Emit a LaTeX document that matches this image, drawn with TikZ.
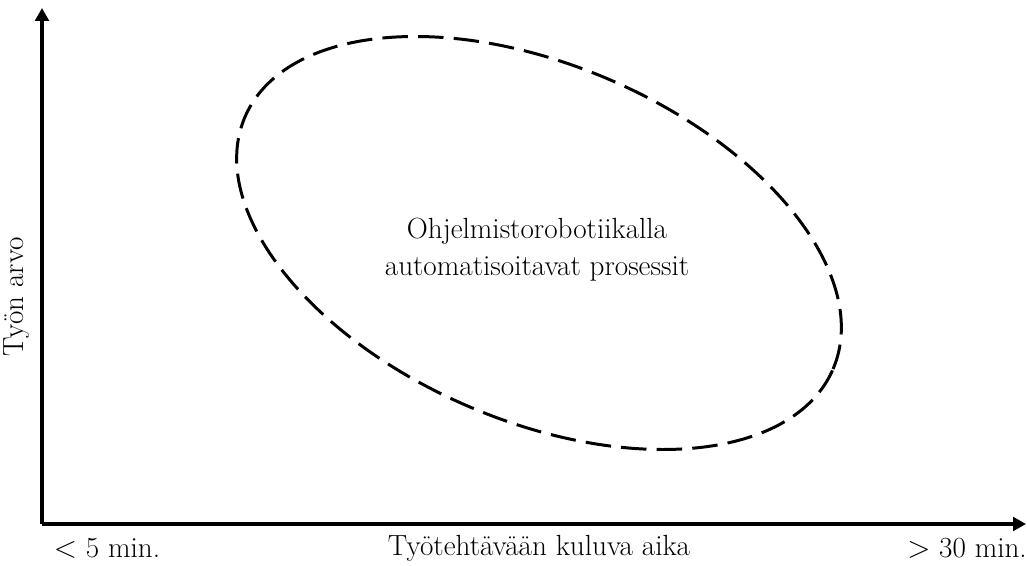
\documentclass[tikz,border=0pt]{standalone}
\usepackage{fontspec}
\usepackage{tikz}
\usetikzlibrary{shapes.geometric, arrows.meta, positioning}
\tikzstyle{axis} = [line width=1.8pt, -{Triangle[length=7.4pt, width=7.8pt]}]
\tikzstyle{zone} = [ellipse, draw=black, line width=1.7pt, dash pattern=on 14.5pt off 5.8pt, minimum width=12.8cm, minimum height=7.12cm, inner sep=0pt]
\tikzstyle{label} = [font=\fontsize{16.6}{21}\selectfont, align=center, inner sep=0pt]

\begin{document}
\begin{tikzpicture}[x=0.02cm, y=0.02cm]
    \useasboundingbox (0,0) rectangle (1027,565);
    \coordinate (origin) at (42,41);
    \coordinate (ytop) at (42,557);
    \coordinate (xend) at (1026,41);

    % Axes
    \draw [axis] (origin) -- (ytop);
    \draw [axis] (origin) -- (xend);

    % Area of processes
    \node (area) [zone, rotate=-23.2] at (539,322) {};
    \node (areatext) [label] at (537,315) {Ohjelmistorobotiikalla\\automatisoitavat prosessit};

    % Axis labels
    \node (xlabel) [label] at (539,17) {Työtehtävään kuluva aika};
    \node (xmin) [label] at (107,17) {$<$ 5 min.};
    \node (xmax) [label] at (967,17) {$>$ 30 min.};
    \node (ylabel) [label, rotate=90] at (17,268) {Työn arvo};
\end{tikzpicture}
\end{document}
